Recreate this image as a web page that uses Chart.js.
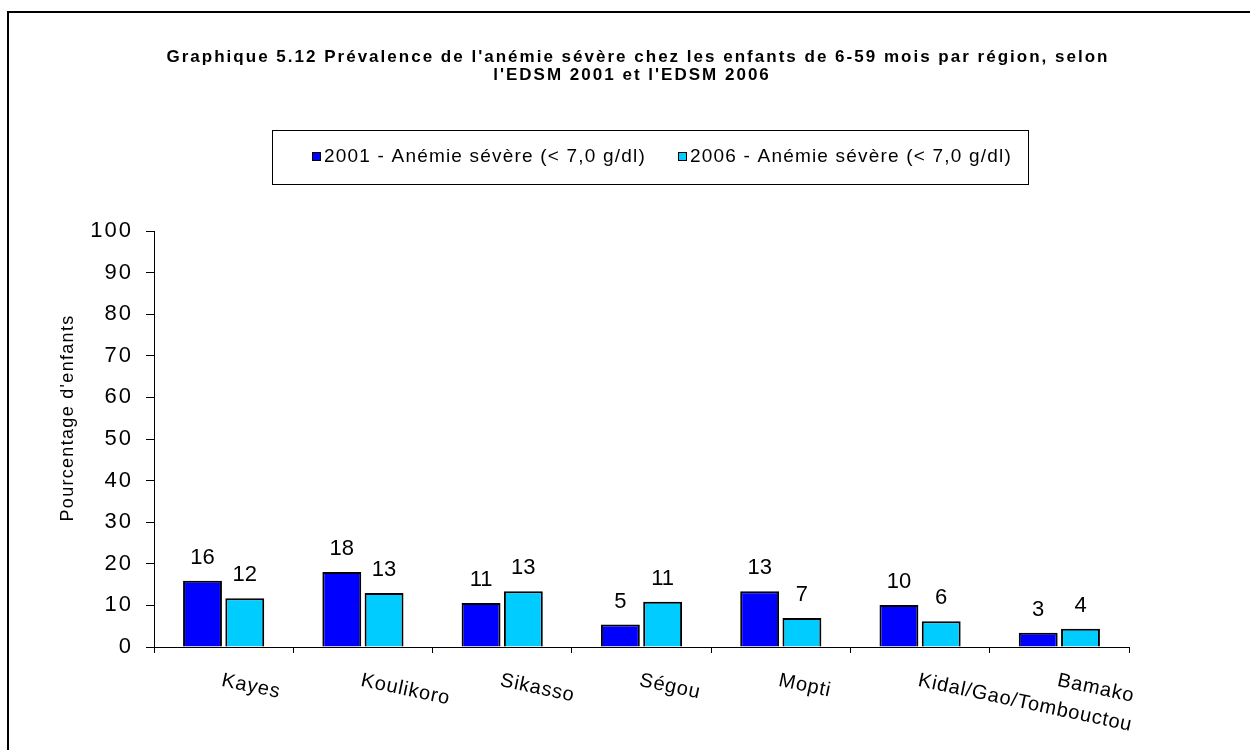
<!DOCTYPE html>
<html>
<head>
<meta charset="utf-8">
<title>Graphique 5.12</title>
<script src="https://cdn.jsdelivr.net/npm/chart.js@4.4.1/dist/chart.umd.min.js"></script>
<style>
  html, body { margin: 0; padding: 0; background: #fff; overflow: hidden; }
  #wrap { width: 1250px; height: 750px; position: relative; }
</style>
</head>
<body>
<div id="wrap"><canvas id="chart" width="1250" height="750"></canvas></div>
<script>
// Values
const regions = ["Kayes", "Koulikoro", "Sikasso", "Ségou", "Mopti", "Kidal/Gao/Tombouctou", "Bamako"];
const anemie2001 = [15.9, 18.0, 10.6, 5.4, 13.4, 10.1, 3.4];
const anemie2006 = [11.7, 13.0, 13.4, 10.9, 7.0, 6.2, 4.4];
const seriesNames = ["2001 - Anémie sévère (< 7,0 g/dl)", "2006 - Anémie sévère (< 7,0 g/dl)"];
const seriesColors = ["#0000ff", "#00ccff"];
const yTicks = [0, 10, 20, 30, 40, 50, 60, 70, 80, 90, 100];
const titleLines = [
    "Graphique 5.12 Prévalence de l'anémie sévère chez les enfants de 6-59 mois par région, selon",
    "l'EDSM 2001 et l'EDSM 2006"
];
const yTitle = "Pourcentage d'enfants";

const FONT = "'Liberation Sans', Arial, sans-serif";

// letter spacing needed so that text fills a given width
function fitSpacing(ctx, text, width){
    ctx.letterSpacing = "0px";
    let w = ctx.measureText(text).width;
    return Math.max(0, (width - w) / text.length);
}

// frame + spacing for the y tick labels
const framePlugin = {
    id: "frame",
    beforeDraw(chart){
        let ctx = chart.ctx;
        ctx.save();
        ctx.fillStyle = "#fff";
        ctx.fillRect(0, 0, chart.width, chart.height);
        ctx.strokeStyle = "#000";
        ctx.lineWidth = 2;
        ctx.beginPath();
        ctx.moveTo(8, chart.height);
        ctx.lineTo(8, 12);
        ctx.lineTo(chart.width, 12);
        ctx.stroke();
        ctx.restore();
        ctx.letterSpacing = "2px";
    },
    beforeDatasetsDraw(chart){
        chart.ctx.letterSpacing = "0px";
    }
};

// title, legend, axis title, category labels and value labels
const textPlugin = {
    id: "texts",
    afterDraw(chart){
        let ctx = chart.ctx;
        let area = chart.chartArea;
        ctx.save();
        ctx.fillStyle = "#000";

        // Title
        ctx.font = "bold 17px " + FONT;
        let sp = fitSpacing(ctx, titleLines[0], 943);
        ctx.letterSpacing = sp + "px";
        ctx.textAlign = "center";
        ctx.textBaseline = "alphabetic";
        ctx.fillText(titleLines[0], 638, 62);
        ctx.fillText(titleLines[1], 632, 80);

        // Legend box
        ctx.letterSpacing = "0px";
        ctx.strokeStyle = "#000";
        ctx.lineWidth = 1;
        ctx.strokeRect(272.5, 130.5, 756, 54);
        ctx.font = "19px " + FONT;
        ctx.textAlign = "left";
        ctx.textBaseline = "middle";
        let itemX = [312, 678];
        seriesNames.forEach((name, i) => {
            ctx.fillStyle = seriesColors[i];
            ctx.fillRect(itemX[i], 152, 9, 9);
            ctx.strokeRect(itemX[i] + 0.5, 152.5, 8, 8);
            ctx.fillStyle = "#000";
            ctx.letterSpacing = fitSpacing(ctx, name, 322) + "px";
            ctx.fillText(name, itemX[i] + 12, 157);
        });

        // Y axis title
        ctx.font = "18px " + FONT;
        ctx.letterSpacing = fitSpacing(ctx, yTitle, 207) + "px";
        ctx.translate(68, 418);
        ctx.rotate(-Math.PI / 2);
        ctx.textAlign = "center";
        ctx.fillText(yTitle, 0, 0);
        ctx.setTransform(1, 0, 0, 1, 0, 0);

        // Category labels, slanted downwards
        let xScale = chart.scales.x;
        ctx.font = "20px " + FONT;
        ctx.letterSpacing = "0.8px";
        ctx.textAlign = "left";
        ctx.textBaseline = "alphabetic";
        regions.forEach((r, i) => {
            let cx = xScale.getPixelForValue(i);
            ctx.save();
            ctx.translate(cx, area.bottom + 25);
            ctx.rotate(12 * Math.PI / 180);
            ctx.fillText(r, 0, 14);
            ctx.restore();
        });

        // Value labels above the bars
        ctx.font = "22px " + FONT;
        ctx.letterSpacing = "0px";
        ctx.textAlign = "center";
        chart.data.datasets.forEach((ds, di) => {
            let meta = chart.getDatasetMeta(di);
            meta.data.forEach((bar, i) => {
                ctx.fillText(Math.round(ds.data[i]), bar.x, bar.y - 17);
            });
        });
        ctx.restore();
    }
};

let context = document.getElementById("chart").getContext("2d");
let chart = new Chart(context, {
    type: "bar",
    data: {
        labels: regions,
        datasets: [
            {
                label: seriesNames[0],
                data: anemie2001,
                backgroundColor: seriesColors[0],
                borderColor: "#000",
                borderWidth: 2,
                categoryPercentage: 0.607,
                barPercentage: 0.92
            },
            {
                label: seriesNames[1],
                data: anemie2006,
                backgroundColor: seriesColors[1],
                borderColor: "#000",
                borderWidth: 2,
                categoryPercentage: 0.607,
                barPercentage: 0.92
            }
        ]
    },
    options: {
        responsive: false,
        animation: false,
        devicePixelRatio: 1,
        layout: {
            padding: { left: 0, top: 231, right: 121, bottom: 0 }
        },
        plugins: {
            legend: { display: false },
            title: { display: false },
            tooltip: { enabled: false }
        },
        scales: {
            x: {
                grid: {
                    offset: true,
                    drawOnChartArea: false,
                    tickLength: 6,
                    color: "#000"
                },
                border: { color: "#000", width: 1 },
                ticks: { display: false },
                afterFit: (scale) => { scale.height = 750 - 647; }
            },
            y: {
                min: yTicks[0],
                max: yTicks[yTicks.length - 1],
                grid: {
                    drawOnChartArea: false,
                    tickLength: 8,
                    color: "#000"
                },
                border: { color: "#000", width: 1 },
                ticks: {
                    stepSize: yTicks[1] - yTicks[0],
                    color: "#000",
                    padding: 13,
                    font: { family: FONT, size: 22 }
                },
                afterFit: (scale) => { scale.width = 154; }
            }
        }
    },
    plugins: [framePlugin, textPlugin]
});
</script>
</body>
</html>
